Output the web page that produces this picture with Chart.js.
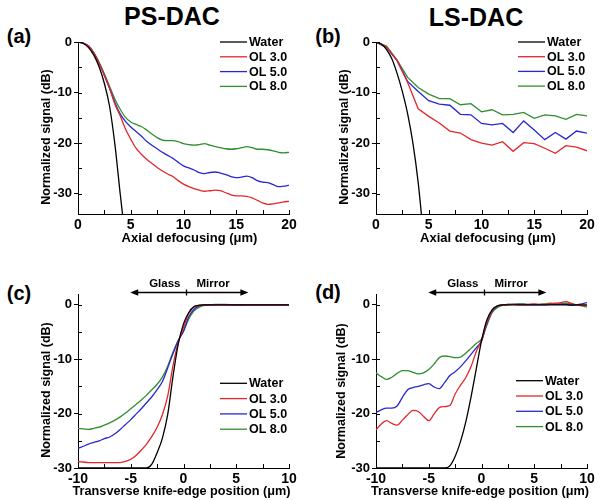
<!DOCTYPE html>
<html>
<head>
<meta charset="utf-8">
<script src="https://cdn.jsdelivr.net/npm/chart.js@4.4.1/dist/chart.umd.min.js"></script>
<style>
  body { margin: 0; background: #fff; }
  #fig { position: relative; width: 600px; height: 500px; overflow: hidden;
         font-family: 'Liberation Sans', Arial, Helvetica, sans-serif; font-weight: bold; color: #000; }
  .panel { position: absolute; width: 300px; height: 250px; }
  .lbl { position: absolute; line-height: 1; white-space: nowrap; transform: translate(-50%, -50%); }
  .big { font-size: 25px; }
  .tag { font-size: 20px; }
</style>
</head>
<body>
<div id="fig">
  <div class="lbl big" style="left:172px; top:16px;">PS-DAC</div>
  <div class="lbl big" style="left:476px; top:17px;">LS-DAC</div>
  <div class="lbl tag" style="left:19px; top:36px;">(a)</div>
  <div class="lbl tag" style="left:328px; top:36px;">(b)</div>
  <div class="lbl tag" style="left:19px; top:293px;">(c)</div>
  <div class="lbl tag" style="left:328px; top:292px;">(d)</div>
  <div class="panel" style="left:0; top:0;"><canvas id="pa" width="300" height="250"></canvas></div>
  <div class="panel" style="left:300px; top:0;"><canvas id="pb" width="300" height="250"></canvas></div>
  <div class="panel" style="left:0; top:250px;"><canvas id="pc" width="300" height="250"></canvas></div>
  <div class="panel" style="left:300px; top:250px;"><canvas id="pd" width="300" height="250"></canvas></div>
</div>
<script>
// ---- data ----
const seriesNames = ['Water', 'OL 3.0', 'OL 5.0', 'OL 8.0'];
const seriesColors = ['#000000', '#e3262b', '#2727d4', '#2f8f2f'];

// (a) PS-DAC, axial
const axialX = [0,0.5,1,1.5,2,2.5,3,3.5,4,4.5,5,5.5,6,6.5,7,7.5,8,8.5,9,9.5,10,10.5,11,11.5,12,12.5,13,13.5,14,14.5,15,15.5,16,16.5,17,17.5,18,18.5,19,19.5,20];
const psWaterX = [0,0.5,1,1.5,2,2.5,3,3.5,4,4.3];
const psWater = [0,-0.3,-1.1,-2.6,-4.9,-8.2,-12.8,-20.3,-30,-35.5];
const psOL3 = [0,-0.2,-0.8,-2.2,-4.2,-6.6,-9.2,-12.3,-14.6,-17.2,-19.2,-21,-22.2,-23.2,-24,-24.8,-25.5,-26.1,-26.6,-27.4,-28.1,-28.6,-29,-29.3,-29.5,-29.4,-29.3,-29.4,-29.8,-30.2,-30.4,-30.4,-30.5,-30.8,-31.3,-31.8,-32.1,-32,-31.8,-31.6,-31.5];
const psOL5 = [0,-0.2,-0.8,-2.2,-4.2,-6.6,-9.2,-12,-14.2,-15.7,-16.8,-17.7,-18.6,-19.6,-20.4,-21.1,-21.8,-22.4,-23,-23.8,-24.5,-24.9,-25.3,-25.8,-26,-25.8,-25.7,-25.9,-26.2,-26.6,-26.8,-26.7,-26.5,-26.8,-27.4,-27.7,-27.8,-28.2,-28.6,-28.5,-28.3];
const psOL8 = [0,-0.2,-0.8,-2.1,-4,-6.3,-8.8,-11.3,-13.3,-14.9,-15.8,-16.3,-16.7,-17.4,-18.2,-18.9,-19.4,-19.5,-19.5,-19.7,-20.1,-20.3,-20.4,-20.3,-20.1,-20.4,-20.7,-20.9,-21.1,-21.2,-21.1,-20.9,-20.7,-20.9,-21.2,-21.2,-21.3,-21.5,-21.8,-21.9,-21.8];

// (b) LS-DAC, axial
const lsX = [0,1,2,3,4,5,6,7,8,9,10,11,12,13,14,15,16,17,18,19,20];
const lsWaterX = [0,0.5,1,1.5,2,2.5,3,3.5,4,4.35];
const lsWater = [0,-0.4,-1.5,-3.3,-6.2,-9.8,-14.2,-20,-27.8,-35];
const lsOL3 = [0,-1,-3.7,-8,-13.2,-14.7,-16,-17.6,-18,-19.3,-20,-20.4,-19.7,-21.6,-19.9,-20.1,-21,-22,-20.5,-20.8,-21.5];
const lsOL5 = [0,-1.1,-3.7,-7.8,-9.8,-11.6,-12.3,-12.5,-14.3,-14.4,-16.1,-16.4,-16.1,-17.9,-15.6,-17.4,-19.3,-17.9,-19.2,-17.6,-18];
const lsOL8 = [0,-0.8,-3.6,-7,-9,-10.3,-11.2,-11.2,-12.4,-12.2,-13.8,-13.4,-14.4,-14.3,-13.9,-15.1,-14.4,-14.6,-15.3,-14.3,-14.6];

// (c) PS-DAC, knife edge
const knifeX = [-10,-9.5,-9,-8.5,-8,-7.5,-7,-6.5,-6,-5.5,-5,-4.5,-4,-3.5,-3,-2.5,-2,-1.5,-1,-0.5,0,0.5,1,1.5,2,2.5,3,3.5,4,4.5,5,5.5,6,6.5,7,7.5,8,8.5,9,9.5,10];
const keWaterPS = [-30,-30,-30,-30,-30,-30,-30,-30,-30,-30,-30,-30,-30,-30,-29.3,-27.2,-24.5,-20.2,-13.2,-7.2,-3.5,-1.4,-0.3,-0.05,0,0,0,0,0,0,0,0,0,0,0,0,0,0,0,0,0];
const keOL3PS = [-28.8,-28.9,-29,-29,-29,-29,-29,-29,-29,-28.8,-28.4,-27.7,-26.7,-25.6,-24.2,-22.5,-20.2,-16.8,-11.2,-6.9,-4.2,-1.6,-0.4,-0.1,0,0,0,0,0,0,0,0,0,0,0,0,0,0,0,0,0];
const keOL5PS = [-26.4,-26,-25.6,-25.3,-25,-24.6,-24.3,-23.7,-22.9,-22,-21.1,-20.1,-19.1,-18,-16.9,-15.6,-14.1,-11.6,-9,-6.6,-4.8,-2.2,-0.8,-0.2,0,0,0,0,0,0,0,0,0,0,0,0,0,0,0,0,0];
const keOL8PS = [-22.7,-22.8,-22.9,-22.7,-22.5,-22.1,-21.7,-21.2,-20.6,-19.9,-19.1,-18.3,-17.5,-16.6,-15.6,-14.6,-13.3,-11.3,-8.7,-6.5,-4.9,-2.6,-1.1,-0.4,-0.1,0,0.1,0.1,0.1,0,-0.1,-0.1,0,0,0,0,0,0,0,0,0];

// (d) LS-DAC, knife edge
const keWaterLS = [-30,-30,-30,-30,-30,-30,-30,-30,-30,-30,-30,-30,-30,-30,-29.6,-27.9,-25.2,-21.6,-17,-11.8,-6.6,-2.8,-0.9,-0.2,0,0,0,0,0,0,0,0,0,0,0,0,0,0,0,0,0];
const keOL3LS = [-23,-21.9,-21.3,-21.8,-22.1,-21.2,-20.2,-19.4,-19.6,-20.5,-21.3,-20.1,-18.9,-18.7,-18.5,-16.4,-14.8,-13.4,-11.4,-8.6,-6.5,-3.2,-1.1,-0.2,0,0.1,0.1,0,0,0.1,0.2,0.1,0.1,0.2,0.3,0.4,0.6,0.3,0,-0.1,-0.2];
const keOL5LS = [-19.8,-19.3,-19,-19,-18.6,-17,-15.6,-15.2,-15,-14.7,-14.5,-15.1,-15.4,-14.3,-13,-12.3,-11.4,-10.3,-9.1,-7.9,-6.7,-3.5,-1.2,-0.3,0,0.1,0.1,0.1,0.1,0,0,0,0,0.1,0.1,0.1,0.1,-0.1,0,0.2,0.4];
const keOL8LS = [-12.5,-13.2,-13.7,-13.3,-12.6,-12.1,-12.1,-12.4,-12.7,-12.5,-11.9,-10.9,-9.7,-9.4,-9.5,-9.7,-9.6,-8.9,-8,-7.1,-6.3,-3.8,-1.5,-0.5,-0.1,0,0.1,0.2,0.2,0.1,0.1,0.1,0.2,0.3,0.2,0.2,0.3,0.2,0,-0.2,-0.4];

// tick labels
const axialTicks = [0, 5, 10, 15, 20];
const knifeTicks = [-10, -5, 0, 5, 10];
const dbTicks = [0, -10, -20, -30];

// glass / mirror annotation (x values)
const arrowSpan = [-5.05, 6.15];
const edgeAt = 0.2;

// ---- drawing ----
const FONT = "'Liberation Sans', Arial, Helvetica, sans-serif";
Chart.defaults.font.family = FONT;
Chart.defaults.font.weight = 'bold';
Chart.defaults.color = '#000';

const decor = {
    id: 'decor',
    afterDraw(chart, args, o) {
        const { ctx, chartArea: a, scales: { x, y } } = chart;
        ctx.save();
        ctx.strokeStyle = '#000';
        ctx.lineWidth = 1;

        // inward ticks (major + minor)
        ctx.beginPath();
        for (let v = Math.ceil(x.min / o.xStep) * o.xStep; v <= x.max + 1e-9; v += o.xStep) {
            const px = Math.round(x.getPixelForValue(v)) + 0.5;
            ctx.moveTo(px, a.bottom);
            ctx.lineTo(px, a.bottom - 4);
        }
        for (let v = Math.ceil(y.min / o.yStep) * o.yStep; v <= y.max + 1e-9; v += o.yStep) {
            const py = Math.round(y.getPixelForValue(v)) + 0.5;
            ctx.moveTo(a.left, py);
            ctx.lineTo(a.left + 4, py);
        }
        ctx.stroke();

        // axis titles
        ctx.fillStyle = '#000';
        ctx.textAlign = 'center';
        ctx.textBaseline = 'middle';
        ctx.font = `bold ${o.xTitleSize}px ${FONT}`;
        ctx.fillText(o.xTitle, (a.left + a.right) / 2 + o.xTitleDx, a.bottom + o.xTitleGap);
        ctx.save();
        ctx.translate(o.yTitleX, o.yTitleY);
        ctx.rotate(-Math.PI / 2);
        ctx.font = `bold 12.5px ${FONT}`;
        ctx.fillText('Normalized signal (dB)', 0, 0);
        ctx.restore();

        // legend
        ctx.textAlign = 'left';
        ctx.font = `bold 12.5px ${FONT}`;
        chart.data.datasets.forEach((ds, i) => {
            const ly = o.legend.y + i * o.legend.gap;
            ctx.strokeStyle = ds.borderColor;
            ctx.lineWidth = 1.3;
            ctx.beginPath();
            ctx.moveTo(o.legend.x, ly);
            ctx.lineTo(o.legend.x + 27, ly);
            ctx.stroke();
            ctx.fillText(ds.label, o.legend.x + 29, ly + 0.5);
        });

        // glass | mirror arrow
        if (o.arrow) {
            const x0 = x.getPixelForValue(arrowSpan[0]);
            const x1 = x.getPixelForValue(arrowSpan[1]);
            const xm = Math.round(x.getPixelForValue(edgeAt)) + 0.5;
            const ay = a.top - 1.5;
            ctx.strokeStyle = '#000';
            ctx.lineWidth = 1.3;
            ctx.beginPath();
            ctx.moveTo(x0 + 5, ay);
            ctx.lineTo(x1 - 5, ay);
            ctx.moveTo(xm, ay - 3);
            ctx.lineTo(xm, ay + 3);
            ctx.stroke();
            ctx.beginPath();
            ctx.moveTo(x0, ay); ctx.lineTo(x0 + 8, ay - 3.2); ctx.lineTo(x0 + 8, ay + 3.2); ctx.closePath();
            ctx.moveTo(x1, ay); ctx.lineTo(x1 - 8, ay - 3.2); ctx.lineTo(x1 - 8, ay + 3.2); ctx.closePath();
            ctx.fill();
            ctx.font = `bold 11.5px ${FONT}`;
            ctx.textAlign = 'right';
            ctx.fillText('Glass', xm - 6, a.top - 10);
            ctx.textAlign = 'left';
            ctx.fillText('Mirror', xm + 10, a.top - 10);
        }
        ctx.restore();
    }
};

function makeSet(xs, ys, i, smooth) {
    return {
        label: seriesNames[i],
        data: xs.map((v, k) => ({ x: v, y: ys[k] })),
        borderColor: seriesColors[i],
        borderWidth: 1.3,
        pointRadius: 0,
        fill: false,
        tension: 0,
        cubicInterpolationMode: smooth ? 'monotone' : 'default'
    };
}

function makePanel(id, p) {
    new Chart(document.getElementById(id), {
        type: 'line',
        data: { datasets: p.sets },
        plugins: [decor],
        options: {
            responsive: false,
            animation: false,
            events: [],
            layout: { padding: { left: 0, top: p.top, right: 300 - p.right, bottom: 0 } },
            plugins: {
                legend: { display: false },
                tooltip: { enabled: false },
                decor: p.decor
            },
            scales: {
                x: {
                    type: 'linear',
                    min: p.xMin, max: p.xMax,
                    afterBuildTicks: s => { s.ticks = p.xTicks.map(v => ({ value: v })); },
                    afterFit: s => { s.height = 250 - p.bottom; },
                    ticks: { font: { size: 14, weight: 'bold' }, color: '#000', padding: 3, maxRotation: 0, autoSkip: false },
                    grid: { drawOnChartArea: false, drawTicks: false },
                    border: { color: '#000', width: 1 }
                },
                y: {
                    type: 'linear',
                    min: p.yMin, max: p.yMax,
                    afterBuildTicks: s => { s.ticks = dbTicks.map(v => ({ value: v })); },
                    afterFit: s => { s.width = p.left; },
                    ticks: { font: { size: 13, weight: 'bold' }, color: '#000', padding: 2, autoSkip: false },
                    grid: { drawOnChartArea: false, drawTicks: true, tickLength: 4, color: '#000' },
                    border: { color: '#000', width: 1 }
                }
            }
        }
    });
}

makePanel('pa', {
    left: 78, right: 289, top: 42, bottom: 214,
    xMin: 0, xMax: 20, yMin: -34, yMax: 0, xTicks: axialTicks,
    sets: [makeSet(psWaterX, psWater, 0, true), makeSet(axialX, psOL3, 1, true),
           makeSet(axialX, psOL5, 2, true), makeSet(axialX, psOL8, 3, true)],
    decor: { xStep: 2.5, yStep: 5, xTitle: 'Axial defocusing (\u03bcm)', xTitleSize: 13, xTitleDx: 6, xTitleGap: 24,
             yTitleX: 47, yTitleY: 137, legend: { x: 220, y: 42, gap: 14.8 }, arrow: false }
});

makePanel('pb', {
    left: 76, right: 287, top: 42, bottom: 214,
    xMin: 0, xMax: 20, yMin: -34, yMax: 0, xTicks: axialTicks,
    sets: [makeSet(lsWaterX, lsWater, 0, true), makeSet(lsX, lsOL3, 1, false),
           makeSet(lsX, lsOL5, 2, false), makeSet(lsX, lsOL8, 3, false)],
    decor: { xStep: 2.5, yStep: 5, xTitle: 'Axial defocusing (\u03bcm)', xTitleSize: 13, xTitleDx: 6.5, xTitleGap: 24,
             yTitleX: 45, yTitleY: 137, legend: { x: 218, y: 42, gap: 14.7 }, arrow: false }
});

makePanel('pc', {
    left: 78, right: 289, top: 44, bottom: 218,
    xMin: -10, xMax: 10, yMin: -30, yMax: 2, xTicks: knifeTicks,
    sets: [makeSet(knifeX, keWaterPS, 0, true), makeSet(knifeX, keOL3PS, 1, true),
           makeSet(knifeX, keOL5PS, 2, true), makeSet(knifeX, keOL8PS, 3, true)],
    decor: { xStep: 2.5, yStep: 5, xTitle: 'Transverse knife-edge position (\u03bcm)', xTitleSize: 12.7, xTitleDx: -2, xTitleGap: 23.5,
             yTitleX: 46.5, yTitleY: 140, legend: { x: 220, y: 133.3, gap: 15.3 }, arrow: true }
});

makePanel('pd', {
    left: 76, right: 287, top: 44, bottom: 218,
    xMin: -10, xMax: 10, yMin: -30, yMax: 2, xTicks: knifeTicks,
    sets: [makeSet(knifeX, keWaterLS, 0, true), makeSet(knifeX, keOL3LS, 1, true),
           makeSet(knifeX, keOL5LS, 2, true), makeSet(knifeX, keOL8LS, 3, true)],
    decor: { xStep: 2.5, yStep: 5, xTitle: 'Transverse knife-edge position (\u03bcm)', xTitleSize: 12.7, xTitleDx: -1.5, xTitleGap: 23.5,
             yTitleX: 42, yTitleY: 141, legend: { x: 216, y: 130.7, gap: 15.3 }, arrow: true }
});
</script>
</body>
</html>
